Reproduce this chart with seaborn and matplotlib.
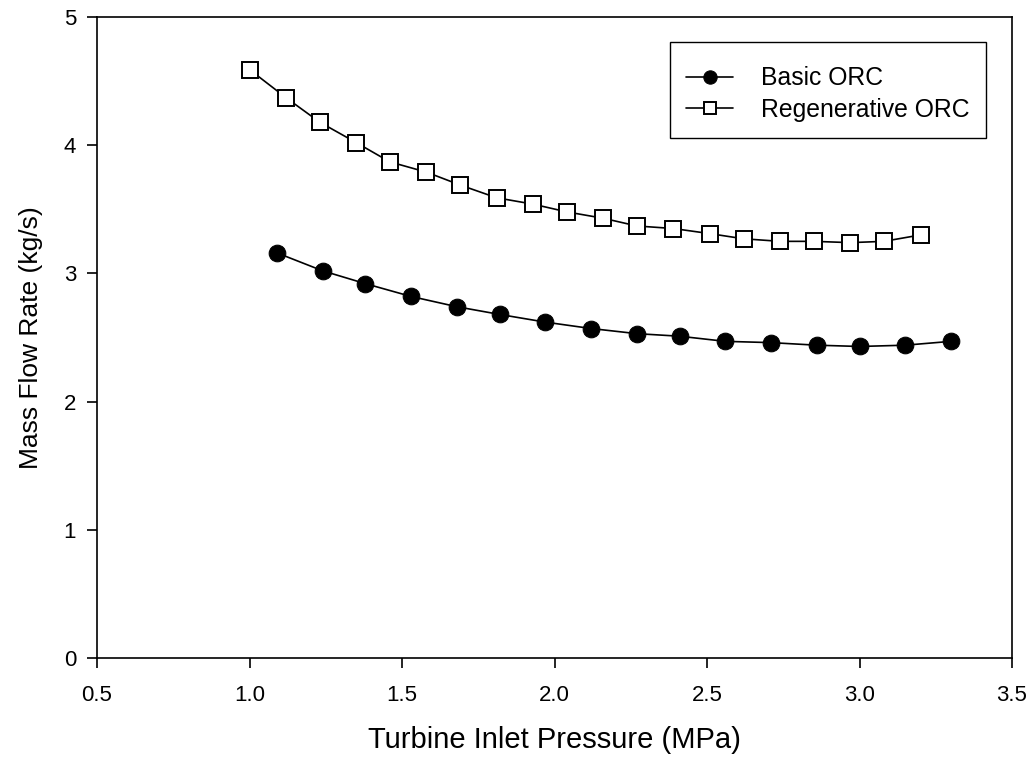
import matplotlib
matplotlib.use("Agg")
import matplotlib.pyplot as plt
import seaborn as sns
import numpy as np
import pandas as pd

basic_p = [1.09, 1.24, 1.38, 1.53, 1.68, 1.82, 1.97, 2.12, 2.27, 2.41, 2.56, 2.71, 2.86, 3.00, 3.15, 3.30]
basic_m = [3.16, 3.02, 2.92, 2.82, 2.74, 2.68, 2.62, 2.57, 2.53, 2.51, 2.47, 2.46, 2.44, 2.43, 2.44, 2.47]

regen_p = [1.00, 1.12, 1.23, 1.35, 1.46, 1.58, 1.69, 1.81, 1.93, 2.04, 2.16, 2.27, 2.39, 2.51, 2.62, 2.74, 2.85, 2.97, 3.08, 3.20]
regen_m = [4.59, 4.37, 4.18, 4.02, 3.87, 3.79, 3.69, 3.59, 3.54, 3.48, 3.43, 3.37, 3.35, 3.31, 3.27, 3.25, 3.25, 3.24, 3.25, 3.30]

x_ticks = [0.5, 1.0, 1.5, 2.0, 2.5, 3.0, 3.5]
y_ticks = [0, 1, 2, 3, 4, 5]

sns.set_theme(style="ticks")
plt.rcParams['font.family'] = ['Liberation Sans', 'DejaVu Sans']
plt.rcParams.update({"text.color": "black", "axes.labelcolor": "black",
                     "xtick.color": "black", "ytick.color": "black",
                     "axes.edgecolor": "black"})

fig = plt.figure(figsize=(10.32, 7.63), dpi=100)
ax = fig.add_axes([97/1032, 105/763, (1012-97)/1032, (658-17)/763])

df_b = pd.DataFrame({"p": basic_p, "m": basic_m})
df_r = pd.DataFrame({"p": regen_p, "m": regen_m})

sns.lineplot(data=df_b, x="p", y="m", ax=ax, color="black", lw=1.2,
             marker="o", markersize=12, markerfacecolor="black",
             markeredgecolor="black", label="Basic ORC")
sns.lineplot(data=df_r, x="p", y="m", ax=ax, color="black", lw=1.2,
             marker="s", markersize=11, markerfacecolor="white",
             markeredgecolor="black", markeredgewidth=1.4, label="Regenerative ORC")

ax.set_xlim(0.5, 3.5)
ax.set_ylim(0, 5)
ax.set_xticks(x_ticks)
ax.set_xticklabels([f"{v:.1f}" for v in x_ticks])
ax.set_yticks(y_ticks)
ax.tick_params(axis="both", direction="out", length=7, width=1.2, labelsize=16,
               top=False, right=False, colors="black")
ax.tick_params(axis="x", pad=12.5)
ax.tick_params(axis="y", pad=8)
for s in ax.spines.values():
    s.set_linewidth(1.2)
    s.set_color("black")
    s.set_visible(True)

ax.set_xlabel("Turbine Inlet Pressure (MPa)", fontsize=21, labelpad=14)
ax.set_ylabel("Mass Flow Rate (kg/s)", fontsize=19, labelpad=15)

leg = ax.legend(loc="upper right", bbox_to_anchor=(0.9716, 0.961), fontsize=17.8,
                frameon=True, fancybox=False, framealpha=1, edgecolor="black",
                borderpad=0.65, handlelength=1.9, handletextpad=1.15,
                labelspacing=0.3, markerscale=0.8, borderaxespad=0,
                title=" ", title_fontsize=1)
leg.get_frame().set_linewidth(1.0)

fig.savefig("out.png", dpi=100, facecolor="white")
